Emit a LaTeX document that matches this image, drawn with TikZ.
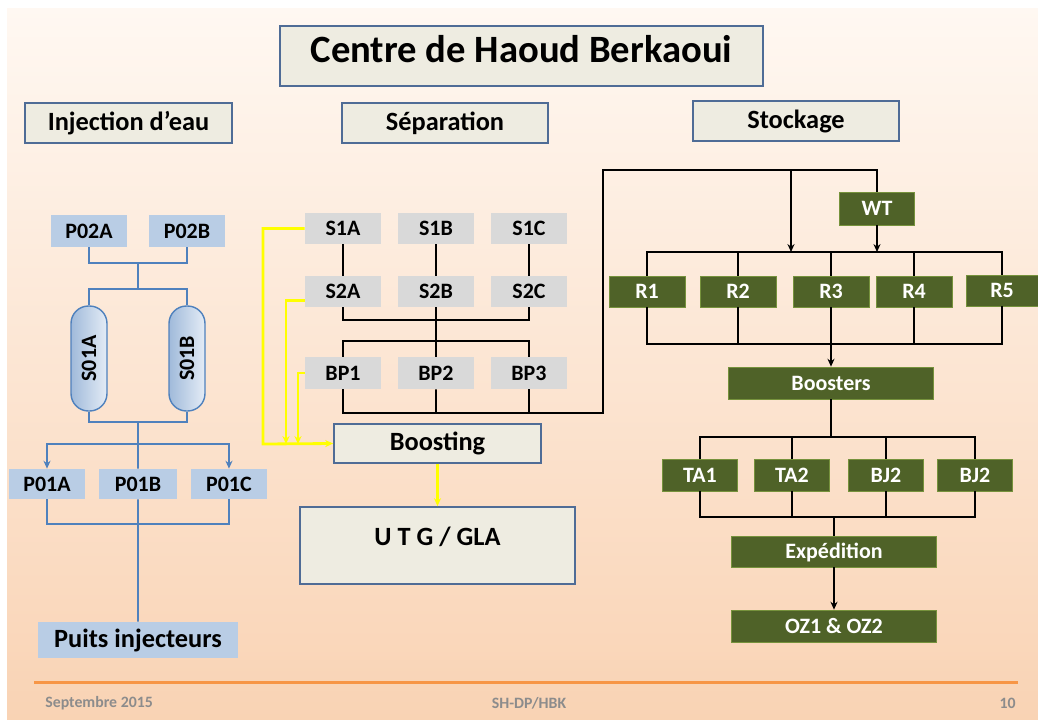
\documentclass[tikz,border=0pt]{standalone}
\usepackage{fontspec}
\setmainfont{Carlito}
\usepackage{tikz}
\usetikzlibrary{positioning,arrows.meta,shadows}
\definecolor{slidetop}{RGB}{255,248,242}
\definecolor{slidemid}{RGB}{252,226,206}
\definecolor{slidebot}{RGB}{249,211,180}
\definecolor{paper}{RGB}{238,236,225}
\definecolor{frame}{RGB}{79,108,150}
\definecolor{pale}{RGB}{185,205,229}
\definecolor{pipe}{RGB}{79,129,189}
\definecolor{sepgrey}{RGB}{217,217,217}
\definecolor{stockgreen}{RGB}{79,98,40}
\definecolor{stockline}{RGB}{118,146,60}
\definecolor{footrule}{RGB}{247,150,70}
\definecolor{foottext}{RGB}{140,140,140}
\definecolor{vesleft}{RGB}{160,186,218}
\definecolor{vesright}{RGB}{228,236,246}
\definecolor{flow}{RGB}{255,255,0}
\tikzset{
  sz/.style 2 args={minimum width=#1*0.02cm, minimum height=#2*0.02cm},
  oneline/.style={text height=0.9em, text depth=0.05em},
  heading/.style={draw=frame, line width=1pt, fill=paper, inner sep=0pt, oneline,
    drop shadow={shadow xshift=0.7pt, shadow yshift=-0.7pt, opacity=0.3},
    font=\fontsize{15}{18}\selectfont\bfseries},
  pump/.style={fill=pale, inner sep=0pt, oneline, font=\fontsize{12.5}{15}\selectfont\bfseries},
  vessel/.style={draw=pipe, line width=0.8pt, rounded corners=0.35cm,
    left color=vesleft, right color=vesright, inner sep=0pt,
    font=\fontsize{12.5}{15}\selectfont\bfseries},
  sepbox/.style={fill=sepgrey, inner sep=0pt, oneline, font=\fontsize{12.5}{15}\selectfont\bfseries},
  tank/.style={fill=stockgreen, draw=stockline, line width=0.4pt, text=white,
    inner sep=0pt, oneline, font=\fontsize{12.5}{15}\selectfont\bfseries},
  bline/.style={draw=pipe, line width=1.1pt},
  kline/.style={draw=black, line width=1pt},
  yline/.style={draw=flow, line width=1.6pt},
  foot/.style={text=foottext, inner sep=0pt, font=\fontsize{9}{11}\selectfont\bfseries},
  >={Stealth[length=4.5pt,width=4pt]}
}
\begin{document}
\begin{tikzpicture}[x=0.02cm, y=-0.02cm, node distance=1.86cm]

             \useasboundingbox (0,0) rectangle (1038,721);
             \fill [white] (0,0) rectangle (1038,721);
             \shade [top color=slidetop, middle color=slidemid, bottom color=slidebot] (7,8) rectangle (1038,719);

             \node (Title) [heading, sz={483}{60}, text height=0.8em, text depth=0.05em, font=\fontsize{22}{26}\selectfont\bfseries] at (521.5,56) {Centre de Haoud Berkaoui};
             \node (Inj) [heading, sz={207}{40}] at (128.5,123) {Injection d’eau};
             \node (Sep) [heading, sz={206}{40}] at (445,123) {Séparation};
             \node (Sto) [heading, sz={206}{40}] at (796,121) {Stockage};

             \node (P02A) [pump, sz={76}{32}] at (89,231) {P02A};
             \node (P02B) [pump, sz={76}{32}, right of=P02A, node distance=1.96cm] {P02B};

             \node (S01A) [vessel, sz={36}{105}] at (89,358.5) {\rotatebox{90}{S01A}};
             \node (S01B) [vessel, sz={36}{105}] at (187,358.5) {\rotatebox{90}{S01B}};

             \node (P01A) [pump, sz={76}{30}] at (47,484) {P01A};
             \node (P01B) [pump, sz={78}{30}, right of=P01A, node distance=1.82cm] {P01B};
             \node (P01C) [pump, sz={76}{30}, right of=P01B, node distance=1.82cm] {P01C};

             \node (Puits) [pump, sz={200}{36}, font=\fontsize{15}{18}\selectfont\bfseries] at (138,640) {Puits injecteurs};

             \coordinate (j1) at (138,263);
             \coordinate (j2) at (138,289);
             \coordinate (j3) at (138,422);
             \coordinate (j4) at (138,444);
             \coordinate (j5) at (138,524);

             \draw [bline] (P02A.south) |- (j1) -| (P02B.south);
             \draw [bline] (j1) -- (j2);
             \draw [bline] (S01A.north) |- (j2) -| (S01B.north);
             \draw [bline] (S01A.south) |- (j3) -| (S01B.south);
             \draw [bline] (j3) -- (j4);
             \draw [bline, ->] (j4) -| (P01A.north);
             \draw [bline, ->] (j4) -| (P01C.north);
             \draw [bline] (j4) -- (P01B.north);
             \draw [bline] (P01A.south) |- (j5) -| (P01C.south);
             \draw [bline] (P01B.south) -- (Puits.north);

             \node (S1A) [sepbox, sz={76}{31}] at (343,228.5) {S1A};
             \node (S1B) [sepbox, sz={76}{31}, right of=S1A] {S1B};
             \node (S1C) [sepbox, sz={76}{31}, right of=S1B] {S1C};

             \node (S2A) [sepbox, sz={76}{31}] at (343,291.5) {S2A};
             \node (S2B) [sepbox, sz={76}{31}, right of=S2A] {S2B};
             \node (S2C) [sepbox, sz={76}{31}, right of=S2B] {S2C};

             \node (BP1) [sepbox, sz={76}{32}] at (343,373) {BP1};
             \node (BP2) [sepbox, sz={76}{32}, right of=BP1] {BP2};
             \node (BP3) [sepbox, sz={76}{32}, right of=BP2] {BP3};

             \node (Boosting) [heading, sz={207}{39}] at (437.5,443.5) {Boosting};
             \node (UTG) [heading, sz={275}{77}, text height=0.3em, text depth=0.3em] at (437.5,545.5) {U T G / GLA};

             \coordinate (m1) at (436,320);
             \coordinate (m2) at (436,341);
             \coordinate (m3) at (436,413);
             \coordinate (m4) at (603,170);
             \coordinate (m5) at (791,170);

             \draw [kline] (S1A) -- (S2A);
             \draw [kline] (S1B) -- (S2B);
             \draw [kline] (S1C) -- (S2C);
             \draw [kline] (S2A.south) |- (m1) -| (S2C.south);
             \draw [kline] (S2B) -- (BP2);
             \draw [kline] (BP1.north) |- (m2) -| (BP3.north);
             \draw [kline] (BP1.south) |- (m3) -| (BP3.south);
             \draw [kline] (BP2) -- (m3);

             \coordinate (y1) at (263,444);
             \coordinate (y2) at (286,444);
             \coordinate (y3) at (298,444);

             \draw [yline, ->] (S1A.west) -| (y1) -- (Boosting.west);
             \draw [yline, ->] ([yshift=-5pt]S2A.west) -| (y2);
             \draw [yline, ->] (BP1.west) -| (y3);
             \draw [yline, ->] (Boosting) -- (UTG);

             \node (WT) [tank, sz={75}{33}] at (877,208.5) {WT};

             \node (R1) [tank, sz={76}{31}] at (647,291.5) {R1};
             \node (R2) [tank, sz={76}{31}] at (738,291.5) {R2};
             \node (R3) [tank, sz={76}{31}] at (831,291.5) {R3};
             \node (R4) [tank, sz={76}{31}] at (914,291.5) {R4};
             \node (R5) [tank, sz={72}{31}] at (1002,290.5) {R5};

             \node (Boosters) [tank, sz={205}{32}] at (831,383) {Boosters};

             \node (TA1) [tank, sz={75}{32}] at (700,475) {TA1};
             \node (TA2) [tank, sz={75}{32}, right of=TA1, node distance=1.84cm] {TA2};
             \node (BJ2) [tank, sz={75}{32}, right of=TA2, node distance=1.88cm] {BJ2};
             \node (BJ2b) [tank, sz={75}{32}, right of=BJ2, node distance=1.78cm] {BJ2};

             \node (Exp) [tank, sz={205}{31}] at (834,551.5) {Expédition};
             \node (OZ) [tank, sz={205}{32}] at (834,626) {OZ1 \& OZ2};

             \coordinate (r0) at (831,252);
             \coordinate (r1) at (831,344);
             \coordinate (b1) at (831,437);
             \coordinate (b2) at (834,517);

             \draw [kline] (m3) -| (m4) -| (WT.north);
             \draw [kline, ->] (m5) -- (m5 |- r0);
             \draw [kline, ->] (WT) -- (WT |- r0);

             \draw [kline] (R1.north) |- (r0) -| (R5.north);
             \draw [kline] (R2) -- (R2 |- r0);
             \draw [kline] (R3) -- (r0);
             \draw [kline] (R4) -- (R4 |- r0);
             \draw [kline] (R1.south) |- (r1) -| (R5.south);
             \draw [kline] (R2) -- (R2 |- r1);
             \draw [kline] (R4) -- (R4 |- r1);
             \draw [kline, ->] (R3) -- (Boosters);

             \draw [kline] (Boosters) -- (b1);
             \draw [kline] (TA1.north) |- (b1) -| (BJ2b.north);
             \draw [kline] (TA2) -- (TA2 |- b1);
             \draw [kline] (BJ2) -- (BJ2 |- b1);
             \draw [kline] (TA1.south) |- (b2) -| (BJ2b.south);
             \draw [kline] (TA2) -- (TA2 |- b2);
             \draw [kline] (BJ2) -- (BJ2 |- b2);
             \draw [kline] (b2) -- (Exp);
             \draw [kline, ->] (Exp) -- (OZ);

             \draw [footrule, line width=1.7pt] (34,682) -- (1018,682);
             \node (Date) [foot, anchor=west] at (45,703) {Septembre 2015};
             \node (Ref) [foot] at (529,703) {SH-DP/HBK};
             \node (Page) [foot, anchor=east] at (1016,703) {10};

\end{tikzpicture}
\end{document}
